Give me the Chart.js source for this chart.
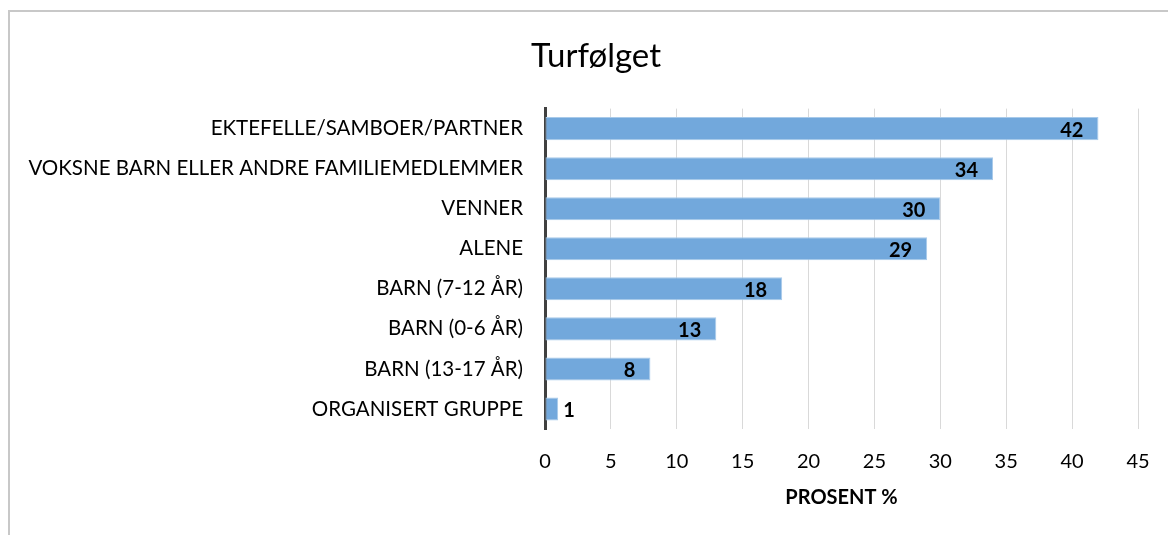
<!DOCTYPE html>
<html>
<head>
<meta charset="utf-8">
<script src="https://cdn.jsdelivr.net/npm/chart.js@4"></script>
<style>
	html, body { margin: 0; padding: 0; background: #fff; overflow: hidden; }
	#frame {
		position: absolute; left: 8px; top: 10px; width: 1172px; height: 525px;
		border-left: 2px solid #c8c8c8; border-top: 2px solid #c8c8c8;
	}
	#wrap { position: relative; width: 1172px; height: 523px; }
</style>
</head>
<body>
<div id="frame"><div id="wrap"><canvas id="turChart"></canvas></div></div>
<script>
const categories = [
	"EKTEFELLE/SAMBOER/PARTNER",
	"VOKSNE BARN ELLER ANDRE FAMILIEMEDLEMMER",
	"VENNER",
	"ALENE",
	"BARN (7-12 ÅR)",
	"BARN (0-6 ÅR)",
	"BARN (13-17 ÅR)",
	"ORGANISERT GRUPPE",
];
const prosent = [42, 34, 30, 29, 18, 13, 8, 1];
const xTicks = [0, 5, 10, 15, 20, 25, 30, 35, 40, 45];

const colors = {
	bar: "#72a8dc",
	barBorder: "#a8caea",
	grid: "#d9d9d9",
	axis: "#404040",
	text: "#000000",
};
const fontFamily = "Lato, 'Liberation Sans', sans-serif";

// value labels, inside the bar end (outside when the bar is too short)
const barLabels = {
	id: "barLabels",
	afterDatasetsDraw(chart) {
		const { ctx } = chart;
		const meta = chart.getDatasetMeta(0);
		ctx.save();
		ctx.font = "bold 20px " + fontFamily;
		ctx.fillStyle = colors.text;
		ctx.textBaseline = "middle";
		meta.data.forEach((bar, i) => {
			const w = bar.x - bar.base;
			if (w < 40) {
				ctx.textAlign = "left";
				ctx.fillText(prosent[i], bar.x + 5, bar.y + 2);
			} else {
				ctx.textAlign = "right";
				ctx.fillText(prosent[i], bar.x - 15, bar.y + 2);
			}
		});
		ctx.restore();
	},
};

// center the title on the whole frame rather than the padded area
const centerTitle = {
	id: "centerTitle",
	afterLayout(chart) {
		const t = chart.titleBlock;
		if (!t) return;
		t.left = 44;
		t.right = 1128;
		t.width = t.right - t.left;
	},
};

new Chart(document.getElementById("turChart"), {
	type: "bar",
	data: {
		labels: categories,
		datasets: [{
			data: prosent,
			backgroundColor: colors.bar,
			borderColor: colors.barBorder,
			borderWidth: 1,
			borderSkipped: false,
			barPercentage: 0.575,
			categoryPercentage: 1,
		}],
	},
	options: {
		indexAxis: "y",
		responsive: true,
		maintainAspectRatio: false,
		animation: false,
		layout: { padding: { left: 0, right: 44, top: 0, bottom: 0 } },
		plugins: {
			legend: { display: false },
			tooltip: { enabled: false },
			title: {
				display: true,
				text: "Turfølget",
				color: "#000",
				font: { family: fontFamily, size: 33, weight: "normal" },
				padding: { top: 25, bottom: 32 },
			},
		},
		scales: {
			x: {
				min: 0,
				max: 45,
				afterBuildTicks: scale => { scale.ticks = xTicks.map(v => ({ value: v })); },
				afterFit: scale => { scale.height = 106; },
				grid: { color: colors.grid, lineWidth: 1, drawTicks: false },
				border: { display: false },
				ticks: {
					color: "#000",
					padding: 21,
					font: { family: fontFamily, size: 20 },
				},
				title: {
					display: true,
					text: "PROSENT %",
					color: "#000",
					font: { family: fontFamily, size: 20, weight: "bold" },
					padding: { top: 8, bottom: 25 },
				},
			},
			y: {
				grid: { display: false, drawTicks: false },
				border: { display: true, color: colors.axis, width: 3 },
				afterFit: scale => { scale.width = 535; },
				ticks: {
					color: "#000",
					padding: 22,
					font: { family: fontFamily, size: 20.5 },
				},
			},
		},
	},
	plugins: [barLabels, centerTitle],
});
</script>
</body>
</html>
